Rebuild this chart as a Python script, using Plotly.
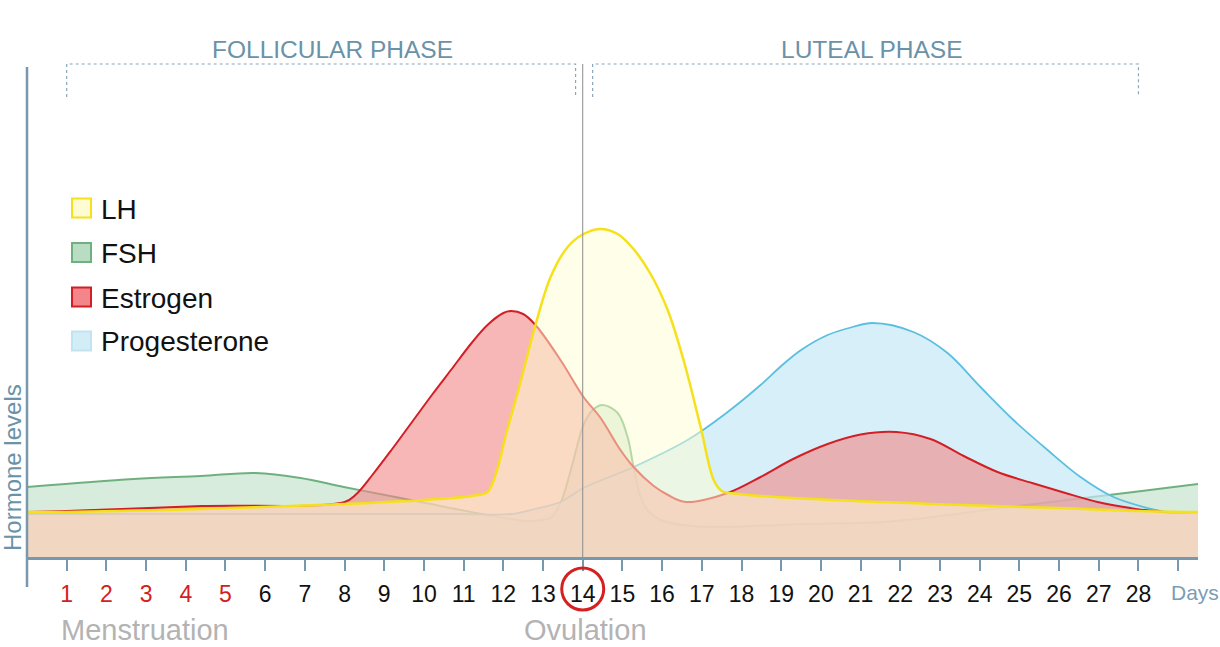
import plotly.graph_objects as go

# ---------------- data (arbitrary hormone level units) ----------------
lh_days = [0, 1, 4.4, 8.0, 10.0, 11.2, 11.6, 11.85, 12.05, 12.4, 12.81, 13.19, 13.62,
           14.02, 14.45, 14.88, 15.28, 15.71, 16.14, 16.54, 16.97, 17.3, 17.5,
           17.8, 19.3, 23.52, 26.0, 28.0, 29.5]
lh_vals = [9.0, 9.0, 9.6, 10.6, 11.4, 12.2, 13.0, 17.6, 24.0, 34.0, 46.4, 56.0, 62.0,
           64.6, 65.6, 64.6, 61.6, 56.6, 49.4, 39.4, 26.0, 15.4, 13.2,
           12.7, 11.8, 10.4, 9.8, 9.2, 9.0]

est_days = [0, 1, 4.4, 8.0, 8.3, 8.7, 9.2, 9.7, 10.2, 10.7, 11.2, 11.6, 12.0, 12.2, 12.5,
            12.81, 13.44, 14.02, 14.45, 14.95, 15.28, 15.79, 16.15, 16.6, 17.65, 18.48, 19.3,
            20.17, 21.0, 21.9, 22.76, 23.6, 24.45, 25.32, 26.16, 26.97, 27.8, 28.63, 29.5]
est_vals = [9.0, 9.2, 10.2, 11.0, 12.6, 16.4, 21.6, 27.0, 32.4, 37.6, 42.8, 46.4, 48.8, 49.2, 48.6,
            46.4, 39.4, 32.0, 27.8, 21.4, 18.0, 14.2, 12.4, 11.0, 12.8, 16.0, 19.6,
            22.6, 24.5, 25.0, 23.6, 20.2, 17.0, 14.8, 12.8, 11.0, 9.8, 9.0, 9.0]

fsh_days = [0, 2.69, 4.38, 5.76, 6.89, 7.98, 9.41, 9.92, 11.6, 12.6, 12.95, 13.19, 13.44, 13.7,
            14.02, 14.25, 14.5, 14.88, 15.13, 15.28, 15.46, 15.63, 15.96, 16.5, 17.47, 19.49,
            21.58, 22.84, 24.53, 26.21, 27.88, 29.5]
fsh_vals = [14.0, 15.6, 16.2, 16.8, 15.8, 14.0, 11.8, 11.0, 8.4, 7.2, 7.4, 7.8, 10.8, 17.4,
            26.4, 29.4, 30.4, 28.8, 24.0, 18.0, 12.0, 9.4, 7.4, 6.4, 6.0, 6.6,
            7.0, 8.0, 9.8, 11.4, 13.0, 14.6]

prog_days = [0, 6, 11, 12.2, 12.8, 13.44, 14.02, 15.28, 16.64, 17.65, 18.48, 19.0, 19.5,
             20.17, 20.8, 21.3, 22.33, 23.19, 24.02, 24.85, 25.71, 26.54, 27.37, 28.23, 28.73, 29.5]
prog_vals = [8.6, 8.6, 8.6, 8.6, 9.6, 11.0, 13.8, 18.0, 23.4, 29.0, 34.4, 38.2, 41.4,
             44.4, 46.0, 46.8, 45.0, 40.8, 34.0, 27.4, 21.4, 16.0, 12.0, 9.8, 9.0, 9.0]

tick_days = list(range(1, 30))
tick_labels = [str(d) for d in range(1, 29)] + [""]
red_days = [1, 2, 3, 4, 5]

legend_names = ["LH", "FSH", "Estrogen", "Progesterone"]

# ---------------- layout helpers ----------------
W, H = 1220, 647
ML, MR, MT, MB = 27, 22, 20, 90
PW, PH = W - ML - MR, H - MT - MB
X_MAX = 29.5
Y_MAX = PH / 5.0

def pxx(p):
    return (p - ML) / PW

def pxy(p):
    return (H - MB - p) / PH

FONT = "Liberation Sans, Arial, sans-serif"
AXIS_C = "#7898ad"
PHASE_C = "#6a92a8"

series = [
    ("FSH", fsh_days, fsh_vals, "#6fb07f", "rgba(152,206,166,0.38)", 2.0),
    ("Progesterone", prog_days, prog_vals, "#5bbfe0", "rgba(196,232,245,0.70)", 1.8),
    ("Estrogen", est_days, est_vals, "#d21f26", "rgba(242,135,135,0.60)", 2.0),
    ("LH", lh_days, lh_vals, "#f5e11b", "rgba(255,253,209,0.50)", 2.5),
]

fig = go.Figure()
for name, xs, ys, lc, fc, lw in series:
    fig.add_trace(go.Scatter(
        x=xs, y=ys, name=name, mode="lines",
        line=dict(color=lc, width=lw, shape="spline", smoothing=1.0),
        fill="tozeroy", fillcolor=fc, hoverinfo="skip", showlegend=False,
    ))

ticktext = []
for d, t in zip(tick_days, tick_labels):
    if d in red_days:
        ticktext.append(f'<span style="color:#d42020">{t}</span>')
    else:
        ticktext.append(t)

shapes = []
# y axis line (extends below x axis)
shapes.append(dict(type="line", xref="paper", yref="paper", x0=0, x1=0,
                   y0=pxy(587), y1=pxy(67), line=dict(color=AXIS_C, width=2.5)))
# ovulation vertical line
shapes.append(dict(type="line", xref="x", yref="paper", x0=14, x1=14,
                   y0=0, y1=pxy(64), line=dict(color="#8c8c8c", width=1), layer="above"))
# phase brackets
for xa, xb in [(1.0, 13.82), (14.25, 28.0)]:
    shapes.append(dict(type="path", xref="x", yref="paper",
                       path=f"M {xa},{pxy(97)} L {xa},{pxy(64)} L {xb},{pxy(64)} L {xb},{pxy(97)}",
                       line=dict(color="#8aa6b8", width=1.2, dash="dot")))
# red circle around 14
r_days = 21 / (PW / X_MAX)
shapes.append(dict(type="circle", xref="x", yref="paper",
                   x0=14 - r_days, x1=14 + r_days, y0=pxy(610), y1=pxy(568),
                   line=dict(color="#d42020", width=3)))

# legend
leg_fill = ["#fffbd2", "#b8ddc3", "#f2868a", "#d3edf7"]
leg_line = ["#f5e11b", "#6fb07f", "#d21f26", "#c2e4f1"]
leg_y = [208, 252.5, 297, 341]
annotations = []
for nm, fcol, lcol, yc in zip(legend_names, leg_fill, leg_line, leg_y):
    shapes.append(dict(type="rect", xref="paper", yref="paper",
                       x0=pxx(72), x1=pxx(91), y0=pxy(yc + 9.5), y1=pxy(yc - 9.5),
                       fillcolor=fcol, line=dict(color=lcol, width=2)))
    annotations.append(dict(text=nm, xref="paper", yref="paper", x=pxx(99), y=pxy(yc + 1),
                            xanchor="left", yanchor="middle", showarrow=False,
                            font=dict(family=FONT, size=28, color="#111111")))

def ann(text, x, y, size, color, angle=0):
    annotations.append(dict(text=text, xref="paper", yref="paper", x=pxx(x), y=pxy(y),
                            xanchor="center", yanchor="middle", showarrow=False,
                            textangle=angle, font=dict(family=FONT, size=size, color=color)))

ann("FOLLICULAR PHASE", 332, 49, 24.5, PHASE_C)
ann("LUTEAL PHASE", 872, 49, 24.5, PHASE_C)
ann("Hormone levels", 12, 468, 24, PHASE_C, angle=-90)
ann("Days", 1195, 592, 21, "#7b9db3")
ann("Menstruation", 145, 630, 29, "#b3b3b3")
ann("Ovulation", 585, 630, 29, "#b3b3b3")

fig.update_layout(
    width=W, height=H,
    margin=dict(l=ML, r=MR, t=MT, b=MB, pad=0),
    paper_bgcolor="white", plot_bgcolor="white",
    showlegend=False,
    xaxis=dict(range=[0, X_MAX], tickmode="array", tickvals=tick_days, ticktext=ticktext,
               showline=True, linecolor=AXIS_C, linewidth=2.5,
               ticks="outside", ticklen=11, tickwidth=1.5, tickcolor=AXIS_C,
               showgrid=False, zeroline=False, ticklabelstandoff=4,
               tickfont=dict(family=FONT, size=23, color="#111111"), fixedrange=True),
    yaxis=dict(range=[0, Y_MAX], visible=False, showgrid=False, zeroline=False, fixedrange=True),
    shapes=shapes,
    annotations=annotations,
)

fig.write_html("out.html", config={"displayModeBar": False},
               post_script="document.body.style.margin='0px';document.body.style.overflow='hidden';")
